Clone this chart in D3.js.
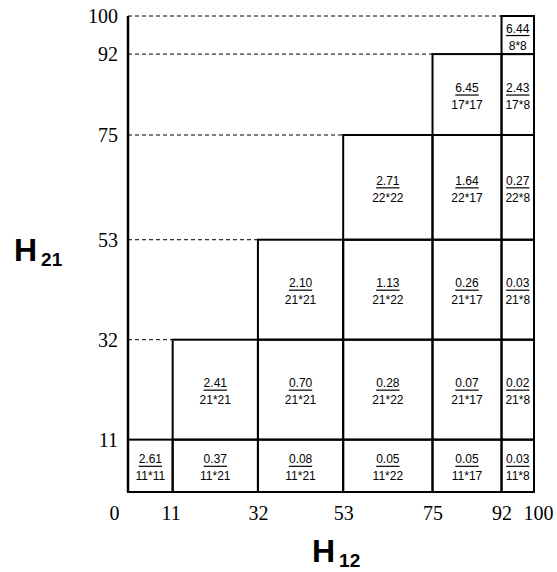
<!DOCTYPE html>
<html>
<head>
<meta charset="utf-8">
<script src="https://cdn.jsdelivr.net/npm/d3@7"></script>
<style>
  body { margin: 0; background: #fff; }
  svg { display: block; }
</style>
</head>
<body>
<div id="chart"></div>
<script>
// block boundaries on both axes (H12 across, H21 up)
const bounds = [0, 11, 32, 53, 75, 92, 100];
const xTicks = [0, 11, 32, 53, 75, 92, 100];
const yTicks = [11, 32, 53, 75, 92, 100];

// values per row, row r starts at column r
const row0 = [2.61, 0.37, 0.08, 0.05, 0.05, 0.03];
const row1 = [2.41, 0.70, 0.28, 0.07, 0.02];
const row2 = [2.10, 1.13, 0.26, 0.03];
const row3 = [2.71, 1.64, 0.27];
const row4 = [6.45, 2.43];
const row5 = [6.44];
const rowValues = [row0, row1, row2, row3, row4, row5];

const width = 557;
const height = 572;

const x = d3.scaleLinear().domain([0, 100]).range([128, 534]);
const y = d3.scaleLinear().domain([0, 100]).range([492, 16]);

const svg = d3.select("#chart")
  .append("svg")
  .attr("width", width)
  .attr("height", height);

// build cells
let cells = [];
rowValues.forEach((vals, r) => {
  vals.forEach((v, k) => {
    const c = r + k;
    cells.push({
      r: r, c: c, value: v,
      size: (bounds[r + 1] - bounds[r]) + "*" + (bounds[c + 1] - bounds[c])
    });
  });
});

// dashed guide lines from the axis to the staircase
svg.selectAll("line.guide")
  .data(d3.range(2, bounds.length))
  .enter()
  .append("line")
  .attr("class", "guide")
  .attr("x1", x(0))
  .attr("x2", k => x(bounds[k - 1]))
  .attr("y1", k => y(bounds[k]))
  .attr("y2", k => y(bounds[k]))
  .attr("stroke", "#000")
  .attr("stroke-width", 1)
  .attr("stroke-dasharray", "4,3");

// cell boxes
svg.selectAll("rect.cell")
  .data(cells)
  .enter()
  .append("rect")
  .attr("class", "cell")
  .attr("x", d => x(bounds[d.c]))
  .attr("y", d => y(bounds[d.r + 1]))
  .attr("width", d => x(bounds[d.c + 1]) - x(bounds[d.c]))
  .attr("height", d => y(bounds[d.r]) - y(bounds[d.r + 1]))
  .attr("fill", "none")
  .attr("stroke", "#000")
  .attr("stroke-width", 2);

// left axis line
svg.append("line")
  .attr("x1", x(0)).attr("x2", x(0))
  .attr("y1", y(0)).attr("y2", y(100))
  .attr("stroke", "#000")
  .attr("stroke-width", 2.5);

// cell labels
const labels = svg.selectAll("g.lab")
  .data(cells)
  .enter()
  .append("g")
  .attr("class", "lab")
  .attr("transform", d => {
    const cx = (x(bounds[d.c]) + x(bounds[d.c + 1])) / 2;
    const cy = (y(bounds[d.r]) + y(bounds[d.r + 1])) / 2;
    return "translate(" + cx + "," + cy + ")";
  })
  .style("font-family", "'Liberation Sans', Arial, sans-serif")
  .style("font-size", "12px");

labels.append("text")
  .attr("class", "val")
  .attr("text-anchor", "middle")
  .attr("y", -2.5)
  .text(d => d.value.toFixed(2));

labels.append("text")
  .attr("text-anchor", "middle")
  .attr("y", 14.5)
  .text(d => d.size);

labels.each(function() {
  const t = d3.select(this).select("text.val").node();
  const w = t.getComputedTextLength();
  d3.select(this).append("line")
    .attr("x1", -w / 2).attr("x2", w / 2)
    .attr("y1", 0.5).attr("y2", 0.5)
    .attr("stroke", "#000")
    .attr("stroke-width", 1.2);
});

// axes
const xAxis = svg.append("g")
  .attr("transform", "translate(0," + (y(0) + 7) + ")")
  .call(d3.axisBottom(x).tickValues(xTicks).tickSize(0).tickFormat(d3.format("d")));
xAxis.select(".domain").remove();
xAxis.selectAll("text")
  .attr("dy", "0.9em")
  .attr("dx", d => d === 0 ? -14 : (d === 100 ? 4 : (d === 11 ? -2 : 0)));

const yAxis = svg.append("g")
  .attr("transform", "translate(" + (x(0) - 7) + ",0)")
  .call(d3.axisLeft(y).tickValues(yTicks).tickSize(0).tickFormat(d3.format("d")));
yAxis.select(".domain").remove();

svg.selectAll(".tick text")
  .style("font-family", "'Liberation Serif', 'Times New Roman', serif")
  .style("font-size", "20px")
  .attr("fill", "#000");

// axis titles
const titleFont = "'Liberation Sans', Arial, sans-serif";
const t21 = svg.append("text")
  .attr("x", 14).attr("y", 261)
  .style("font-family", titleFont)
  .style("font-weight", "bold");
t21.append("tspan").style("font-size", "32px").text("H");
t21.append("tspan").style("font-size", "19px").attr("dx", 4).attr("dy", 5).text("21");

const t12 = svg.append("text")
  .attr("x", 312).attr("y", 562)
  .style("font-family", titleFont)
  .style("font-weight", "bold");
t12.append("tspan").style("font-size", "32px").text("H");
t12.append("tspan").style("font-size", "19px").attr("dx", 4).attr("dy", 5).text("12");
</script>
</body>
</html>
